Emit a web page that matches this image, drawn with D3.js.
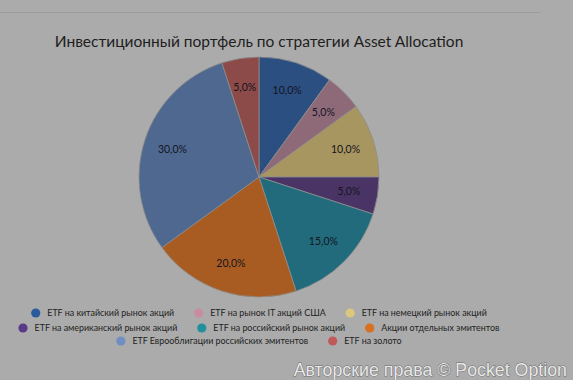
<!DOCTYPE html>
<html><head><meta charset="utf-8">
<script src="https://cdn.jsdelivr.net/npm/d3@7"></script>
<style>html,body{margin:0;padding:0;background:#ababab;}svg{display:block;}</style>
</head><body>
<svg id="c" width="573" height="380"></svg>
<script>
const title = "Инвестиционный портфель по стратегии Asset Allocation";
const categories = [
  "ETF на китайский рынок акций",
  "ETF на рынок IT акций США",
  "ETF на немецкий рынок акций",
  "ETF на американский рынок акций",
  "ETF на российский рынок акций",
  "Акции отдельных эмитентов",
  "ETF Еврооблигации российских эмитентов",
  "ETF на золото"
];
const values = [10, 5, 10, 5, 15, 20, 30, 5];
const sliceColors = ["#2b4f80","#8e6a78","#a89660","#4a3466","#216b7c","#a85c22","#4e6890","#8c4a48"];
const legendColors = ["#2a5a9c","#c88ca0","#dcc87c","#5a3a88","#20909c","#d87020","#6e8ec4","#c05a58"];
const legendRows = [3, 3, 2];
const watermark = "Авторские права © Pocket Option";

const svg = d3.select("#c");
svg.append("rect").attr("width",573).attr("height",380).attr("fill","#ababab");
svg.append("line").attr("x1",0).attr("x2",540).attr("y1",12.5).attr("y2",12.5)
  .attr("stroke","#9d9d9d").attr("stroke-width",1);

svg.append("text").attr("x",259).attr("y",47).attr("text-anchor","middle")
  .attr("font-family","Lato, 'Open Sans', sans-serif").attr("font-size",15.5)
  .attr("fill","#1e1e1e").text(title);

const cx = 259, cy = 177, R = 120;
const pie = d3.pie().sort(null).value(d => d);
const arcs = pie(values);
const arc = d3.arc().innerRadius(0).outerRadius(R);
const labelArc = d3.arc().innerRadius(91).outerRadius(91);
const fmt = v => d3.format(".1f")(v).replace(".", ",") + "%";
const total = d3.sum(values);
const g = svg.append("g").attr("transform",`translate(${cx},${cy})`);
g.selectAll("path").data(arcs).join("path")
  .attr("d", arc).attr("fill",(d,i)=>sliceColors[i])
  .attr("stroke","#8e8e8e").attr("stroke-width",0.8);
g.selectAll("text").data(arcs).join("text")
  .attr("transform", d => `translate(${labelArc.centroid(d)})`)
  .attr("text-anchor","middle").attr("dy","0.35em")
  .attr("font-family","Lato, 'Open Sans', sans-serif").attr("font-size",10.5)
  .attr("fill","#14141e").text(d => fmt(d.data / total * 100));

// legend
const lg = svg.append("g").attr("font-family","Lato, 'Open Sans', sans-serif").attr("font-size",8.9).attr("fill","#1e1e1e");
const rowY = [313, 328, 341];
let idx = 0;
legendRows.forEach((n, r) => {
  const items = d3.range(idx, idx + n);
  idx += n;
  const row = lg.append("g");
  let x = 0;
  items.forEach((i, k) => {
    const it = row.append("g").attr("transform",`translate(${x},0)`);
    it.append("circle").attr("cx",4.5).attr("cy",0).attr("r",4.6).attr("fill",legendColors[i]);
    const t = it.append("text").attr("x",16).attr("dy","0.35em").text(categories[i]);
    const w = t.node().getComputedTextLength();
    x += 16 + w + 20;
  });
  const width = x - 20;
  row.attr("transform",`translate(${259 - width/2},${rowY[r]})`);
});

svg.append("text").attr("x",567).attr("y",376).attr("text-anchor","end")
  .attr("font-family","'Liberation Sans', Arial, sans-serif").attr("font-size",17.8)
  .attr("fill","#e8e8e8").attr("stroke","#6a6a6a").attr("stroke-width",0.9)
  .attr("paint-order","stroke").text(watermark);
</script>
</body></html>
